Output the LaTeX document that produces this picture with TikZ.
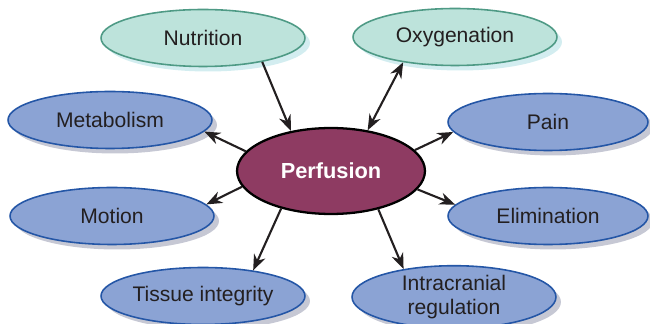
\documentclass[tikz,border=0pt]{standalone}
\usepackage{fontspec}
\setmainfont{Liberation Sans}
\usetikzlibrary{shapes.geometric,shadows,arrows.meta}
\definecolor{greenfill}{HTML}{BDE3DB}
\definecolor{greenedge}{HTML}{4E9A85}
\definecolor{greenshade}{HTML}{D3EDF0}
\definecolor{bluefill}{HTML}{8BA3D4}
\definecolor{blueedge}{HTML}{2456A6}
\definecolor{blueshade}{HTML}{C6C8D4}
\definecolor{hubfill}{HTML}{8E3B62}
\definecolor{inktext}{HTML}{231F20}
\tikzset{
  concept/.style={ellipse, inner sep=0pt, minimum width=4.08cm, minimum height=1.14cm,
    font=\fontsize{12}{14}\selectfont, text=inktext, align=center, line width=0.9pt},
  greenbox/.style={concept, fill=greenfill, draw=greenedge,
    drop shadow={shadow xshift=0.1cm, shadow yshift=-0.1cm, fill=greenshade, opacity=1}},
  bluebox/.style={concept, fill=bluefill, draw=blueedge,
    drop shadow={shadow xshift=0.1cm, shadow yshift=-0.1cm, fill=blueshade, opacity=1}},
  hub/.style={ellipse, inner sep=0pt, minimum width=3.76cm, minimum height=1.72cm,
    fill=hubfill, draw=black, line width=1.3pt, text=white,
    font=\fontsize{12.4}{14}\selectfont\bfseries},
  link/.style={line width=1.2pt, draw=inktext, -{Stealth[length=9pt,width=7pt]}},
  twoway/.style={link, {Stealth[length=9pt,width=7pt]}-{Stealth[length=9pt,width=7pt]}}
}
\begin{document}
\begin{tikzpicture}[x=0.02cm, y=-0.02cm]
\useasboundingbox (0,0) rectangle (650,324);
% surrounding concepts
\node[greenbox] (nut) at (203,38) {Nutrition};
\node[greenbox] (oxy) at (455,37) {Oxygenation};
\node[bluebox] (met) at (110,120) {Metabolism};
\node[bluebox, minimum width=4.0cm] (pain) at (548,122) {Pain};
\node[bluebox] (mot) at (112,216) {Motion};
\node[bluebox, minimum width=4.0cm] (eli) at (548,216) {Elimination};
\node[bluebox] (tis) at (203,296) {Tissue integrity};
\node[bluebox] (icr) at (454,297) {Intracranial\\regulation};
% central concept
\node[hub] (per) at (331,171) {Perfusion};
% connectors
\draw[link] (nut.-22) -- (per.135);
\draw[twoway] (oxy.-154) -- (per.48);
\draw[link] (per.167) -- (met.-7);
\draw[link] (per.14) -- (pain.-174);
\draw[link] (per.190) -- (mot.7);
\draw[link] (per.-12) -- (eli.173);
\draw[link] (per.217) -- (tis.27);
\draw[link] (per.-39) -- (icr.151);
\end{tikzpicture}
\end{document}
